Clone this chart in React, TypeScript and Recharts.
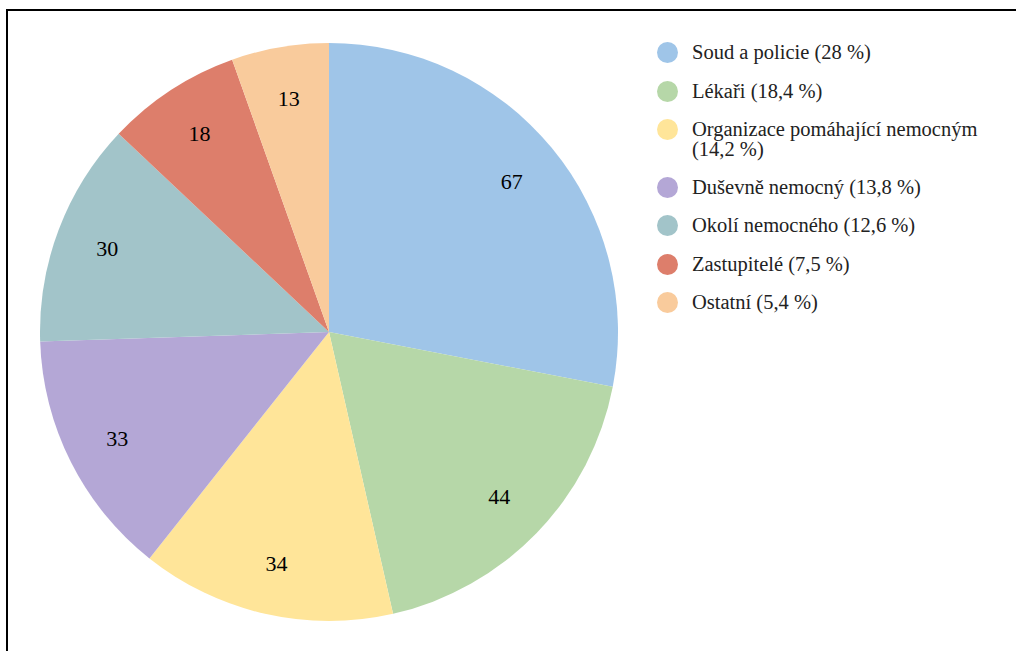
import React from 'react';
import { PieChart, Pie, Cell } from 'recharts';

// podíly jednotlivých aktérů
const names = [
  'Soud a policie',
  'Lékaři',
  'Organizace pomáhající nemocným',
  'Duševně nemocný',
  'Okolí nemocného',
  'Zastupitelé',
  'Ostatní',
];
const counts = [67, 44, 34, 33, 30, 18, 13];
const shares = ['28', '18,4', '14,2', '13,8', '12,6', '7,5', '5,4'];

const COLORS = ['#9fc5e8', '#b6d7a8', '#ffe599', '#b4a7d6', '#a2c4c9', '#dd7e6b', '#f9cb9c'];

const FONT = '"Liberation Serif", serif';
const RADIAN = Math.PI / 180;

const renderLabel = ({ cx, cy, midAngle, outerRadius, value }: any) => {
  const r = outerRadius * 0.82;
  const x = cx + r * Math.cos(-midAngle * RADIAN);
  const y = cy + r * Math.sin(-midAngle * RADIAN);
  return (
    <text x={x} y={y} fill="#000" textAnchor="middle" dominantBaseline="central" fontSize={22} style={{ fontFamily: FONT }}>
      {value}
    </text>
  );
};

const App: React.FC = () => {
  const data = names.map((name, i) => ({ name, value: counts[i] }));

  return (
    <div style={{ position: 'absolute', left: 0, top: 0, width: 1016, height: 651, overflow: 'hidden', background: '#fff', fontFamily: FONT }}>
      <div
        style={{
          position: 'absolute',
          left: 6,
          top: 9,
          width: 1030,
          height: 660,
          border: '2px solid #000',
        }}
      />
      <div style={{ position: 'absolute', left: 0, top: 0 }}>
        <PieChart width={1016} height={651} margin={{ top: 0, right: 0, bottom: 0, left: 0 }}>
          <Pie
            data={data}
            dataKey="value"
            nameKey="name"
            cx={329}
            cy={332}
            outerRadius={289}
            startAngle={90}
            endAngle={-270}
            stroke="none"
            labelLine={false}
            label={renderLabel}
            isAnimationActive={false}
          >
            {data.map((entry, index) => (
              <Cell key={`cell-${index}`} fill={COLORS[index % COLORS.length]} />
            ))}
          </Pie>
        </PieChart>
      </div>
      <div style={{ position: 'absolute', left: 657, top: 42, fontFamily: FONT, fontSize: 20.5, color: '#222' }}>
        {names.map((name, i) => (
          <div key={name} style={{ display: 'flex', alignItems: 'flex-start', marginBottom: 17.5 }}>
            <span
              style={{
                width: 21,
                height: 21,
                borderRadius: '50%',
                background: COLORS[i],
                flex: '0 0 auto',
              }}
            />
            <span style={{ marginLeft: 14, lineHeight: '20px', width: 305, fontFamily: FONT }}>
              {name} <span style={{ whiteSpace: 'nowrap' }}>({shares[i]} %)</span>
            </span>
          </div>
        ))}
      </div>
    </div>
  );
};

export default App;
